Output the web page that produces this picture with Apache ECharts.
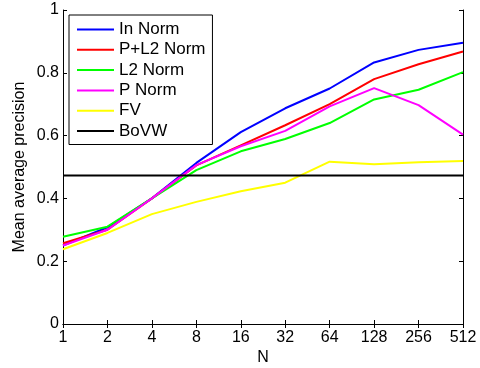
<!DOCTYPE html>
<html>
<head>
<meta charset="utf-8">
<script src="https://cdn.jsdelivr.net/npm/echarts@6/dist/echarts.min.js"></script>
<style>
  html, body { margin: 0; padding: 0; background: #fff; }
  #chart { width: 480px; height: 368px; }
</style>
</head>
<body>
<div id="chart"></div>
<script>
const categories = ["1", "2", "4", "8", "16", "32", "64", "128", "256", "512"];
const inNorm = [0.250, 0.308, 0.400, 0.513, 0.611, 0.687, 0.750, 0.833, 0.873, 0.896];
const pL2Norm = [0.257, 0.300, 0.400, 0.505, 0.569, 0.633, 0.700, 0.780, 0.827, 0.868];
const l2Norm = [0.278, 0.310, 0.400, 0.490, 0.550, 0.589, 0.640, 0.715, 0.746, 0.802];
const pNorm = [0.250, 0.300, 0.400, 0.506, 0.566, 0.615, 0.693, 0.751, 0.697, 0.603];
const fv = [0.238, 0.290, 0.350, 0.389, 0.423, 0.450, 0.517, 0.509, 0.515, 0.519];
const bovw = [0.473, 0.473, 0.473, 0.473, 0.473, 0.473, 0.473, 0.473, 0.473, 0.473];

const font = "'Liberation Sans', Arial, sans-serif";
const chart = echarts.init(document.getElementById("chart"));

const line = (name, data, color) => ({
    name: name,
    type: "line",
    data: data,
    symbol: "none",
    color: color,
    lineStyle: { width: 2, color: color },
    animation: false,
});

// matlab style box: ticks inside on all four sides
const tickStyle = { inside: true, length: 4, lineStyle: { color: "#000" } };

const option = {
    textStyle: { fontFamily: font, color: "#000" },
    grid: { left: 63, right: 17, top: 10, bottom: 44, outerBoundsMode: "none", containLabel: false },
    legend: {
        orient: "vertical",
        left: 69,
        top: 15,
        padding: [6, 7, 5, 8],
        itemGap: 3.3,
        itemWidth: 37,
        itemHeight: 2,
        icon: "rect",
        borderColor: "#000",
        borderWidth: 1,
        backgroundColor: "#fff",
        textStyle: { fontSize: 17, color: "#000", fontFamily: font },
        data: ["In Norm", "P+L2 Norm", "L2 Norm", "P Norm", "FV", "BoVW"],
    },
    xAxis: [
        {
            type: "category",
            data: categories,
            boundaryGap: false,
            name: "N",
            nameLocation: "middle",
            nameGap: 26,
            nameMoveOverlap: false,
            nameTextStyle: { fontSize: 16, color: "#000" },
            axisLine: { lineStyle: { color: "#000", width: 1 } },
            axisTick: tickStyle,
            axisLabel: { fontSize: 16, color: "#000", margin: 6 },
            splitLine: { show: false },
        },
        {
            type: "category",
            data: categories,
            boundaryGap: false,
            position: "top",
            axisLine: { lineStyle: { color: "#000", width: 1 } },
            axisTick: tickStyle,
            axisLabel: { show: false },
            splitLine: { show: false },
        },
    ],
    yAxis: [
        {
            type: "value",
            min: 0,
            max: 1,
            interval: 0.2,
            name: "Mean average precision",
            nameLocation: "middle",
            nameGap: 35,
            nameMoveOverlap: false,
            nameTextStyle: { fontSize: 16, color: "#000" },
            axisLine: { show: true, lineStyle: { color: "#000", width: 1 } },
            axisTick: Object.assign({ show: true }, tickStyle),
            axisLabel: { fontSize: 16, color: "#000", margin: 4 },
            splitLine: { show: false },
        },
        {
            type: "value",
            min: 0,
            max: 1,
            interval: 0.2,
            position: "right",
            axisLine: { show: true, lineStyle: { color: "#000", width: 1 } },
            axisTick: Object.assign({ show: true }, tickStyle),
            axisLabel: { show: false },
            splitLine: { show: false },
        },
    ],
    series: [
        line("In Norm", inNorm, "#0000ff"),
        line("P+L2 Norm", pL2Norm, "#ff0000"),
        line("L2 Norm", l2Norm, "#00ff00"),
        line("P Norm", pNorm, "#ff00ff"),
        line("FV", fv, "#ffff00"),
        line("BoVW", bovw, "#000000"),
    ],
};

chart.setOption(option);
</script>
</body>
</html>
